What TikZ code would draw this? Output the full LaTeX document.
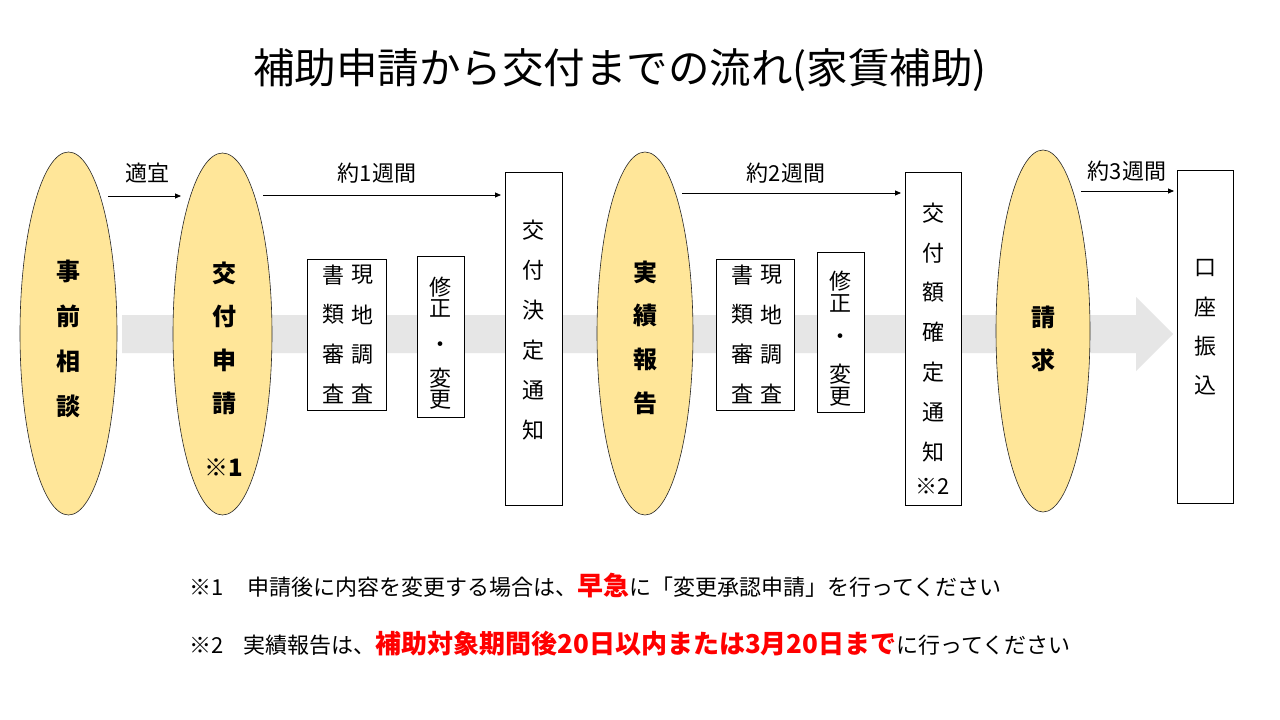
\documentclass[tikz,border=0pt]{standalone}
\usepackage{fontspec}
\setmainfont{Noto Sans CJK JP}
\usetikzlibrary{arrows.meta,shapes.geometric}
\definecolor{ellfill}{HTML}{FFE699}
\definecolor{bandgray}{HTML}{E6E6E6}
\definecolor{notered}{HTML}{FF0000}
\begin{document}
\begin{tikzpicture}[x=1pt,y=-1pt,
  ell/.style={ellipse, draw=black!85, line width=0.6pt, fill=ellfill, inner sep=0pt},
  boxnode/.style={draw=black, line width=0.8pt, fill=white, inner sep=0pt},
  etext/.style={font=\fontsize{24}{24}\selectfont\bfseries, inner sep=0pt},
  btext/.style={font=\fontsize{22}{22}\selectfont, inner sep=0pt},
  lbl/.style={font=\fontsize{22}{22}\selectfont, inner sep=0pt},
  conn/.style={draw=black, line width=0.8pt, -{Triangle[length=6pt,width=5pt]}}]
\useasboundingbox (0,0) rectangle (1280,720);
\fill[white] (0,0) rectangle (1280,720);

% title
\node[font=\fontsize{41.5}{41.5}\selectfont, inner sep=0pt] (title) at (620,70) {補助申請から交付までの流れ(家賃補助)};

% background arrow
\fill[bandgray] (122,315) -- (1136,315) -- (1136,297) -- (1173,334) -- (1136,371) -- (1136,353) -- (122,353) -- cycle;

% ellipses
\node[ell, minimum width=97pt, minimum height=363pt] (e1) at (68.5,333.5) {};
\node[ell, minimum width=99pt, minimum height=362pt] (e2) at (222.5,334) {};
\node[ell, minimum width=96pt, minimum height=363pt] (e3) at (645,333.5) {};
\node[ell, minimum width=94pt, minimum height=362pt] (e4) at (1043,331) {};

% boxes
\node[boxnode, minimum width=79pt, minimum height=151pt] (b1) at (346.5,334.5) {};
\node[boxnode, minimum width=47pt, minimum height=161pt] (b2) at (440.5,336.5) {};
\node[boxnode, minimum width=57pt, minimum height=333pt] (b3) at (533.5,338.5) {};
\node[boxnode, minimum width=78pt, minimum height=151pt] (b4) at (755,334.5) {};
\node[boxnode, minimum width=47pt, minimum height=160pt] (b5) at (840.5,332.5) {};
\node[boxnode, minimum width=56pt, minimum height=333pt] (b6) at (933,338.5) {};
\node[boxnode, minimum width=56pt, minimum height=333pt] (b7) at (1205,336.5) {};

% ellipse texts
\foreach \ch [count=\i] in {事,前,相,談}
  \node[etext] (e1t\i) at (68,{271+45*(\i-1)}) {\ch};
\foreach \ch [count=\i] in {交,付,申,請}
  \node[etext] (e2t\i) at (224,{273+43.5*(\i-1)}) {\ch};
\node[etext] (e2n) at (224,468) {※1};
\foreach \ch [count=\i] in {実,績,報,告}
  \node[etext] (e3t\i) at (645,{272+43.7*(\i-1)}) {\ch};
\node[etext] (e4t1) at (1043,317) {請};
\node[etext] (e4t2) at (1043,360) {求};

% box texts
\foreach \ch [count=\i] in {書,類,審,査}
  \node[btext] (b1a\i) at (333,{275+39.7*(\i-1)}) {\ch};
\foreach \ch [count=\i] in {現,地,調,査}
  \node[btext] (b1b\i) at (362,{275+39.7*(\i-1)}) {\ch};
\node[btext] (b2t1) at (440.5,287) {修};
\node[btext] (b2t2) at (440.5,308) {正};
\node[btext] (b2t3) at (440.5,347) {・};
\node[btext] (b2t4) at (440.5,378) {変};
\node[btext] (b2t5) at (440.5,400) {更};
\foreach \ch [count=\i] in {交,付,決,定,通,知}
  \node[btext] (b3t\i) at (533.5,{230+40*(\i-1)}) {\ch};
\foreach \ch [count=\i] in {書,類,審,査}
  \node[btext] (b4a\i) at (742,{275+39.7*(\i-1)}) {\ch};
\foreach \ch [count=\i] in {現,地,調,査}
  \node[btext] (b4b\i) at (771,{275+39.7*(\i-1)}) {\ch};
\node[btext] (b5t1) at (840.5,281) {修};
\node[btext] (b5t2) at (840.5,303) {正};
\node[btext] (b5t3) at (840.5,339) {・};
\node[btext] (b5t4) at (840.5,374) {変};
\node[btext] (b5t5) at (840.5,397) {更};
\foreach \ch [count=\i] in {交,付,額,確,定,通,知}
  \node[btext] (b6t\i) at (933,{213+39.8*(\i-1)}) {\ch};
\node[btext] (b6n) at (933,486) {※2};
\foreach \ch [count=\i] in {口,座,振,込}
  \node[btext] (b7t\i) at (1205,{268+39*(\i-1)}) {\ch};

% connectors
\coordinate (a1s) at (108,196);
\coordinate (a1e) at (181,196);
\coordinate (a2s) at (263,195);
\coordinate (a2e) at (501,195);
\coordinate (a3s) at (682,193);
\coordinate (a3e) at (901,193);
\coordinate (a4s) at (1081,191);
\coordinate (a4e) at (1174,191);
\draw[conn] (a1s) -- (a1e);
\draw[conn] (a2s) -- (a2e);
\draw[conn] (a3s) -- (a3e);
\draw[conn] (a4s) -- (a4e);
\node[lbl] (l1) at (147.5,173) {適宜};
\node[lbl] (l2) at (377,173) {約1週間};
\node[lbl] (l3) at (786,173) {約2週間};
\node[lbl] (l4) at (1127,171) {約3週間};

% footnotes
\node[anchor=base west, inner sep=0pt, font=\fontsize{22}{26}\selectfont] (n1) at (189,595.5)
  {※1\hspace{24pt}申請後に内容を変更する場合は、{\fontsize{26}{30}\selectfont\bfseries\color{notered}早急}に「変更承認申請」を行ってください};
\node[anchor=base west, inner sep=0pt, font=\fontsize{22}{26}\selectfont] (n2) at (189,653.5)
  {※2\hspace{20pt}実績報告は、{\fontsize{26}{30}\selectfont\bfseries\color{notered}補助対象期間後20日以内または3月20日まで}に行ってください};
\end{tikzpicture}
\end{document}
